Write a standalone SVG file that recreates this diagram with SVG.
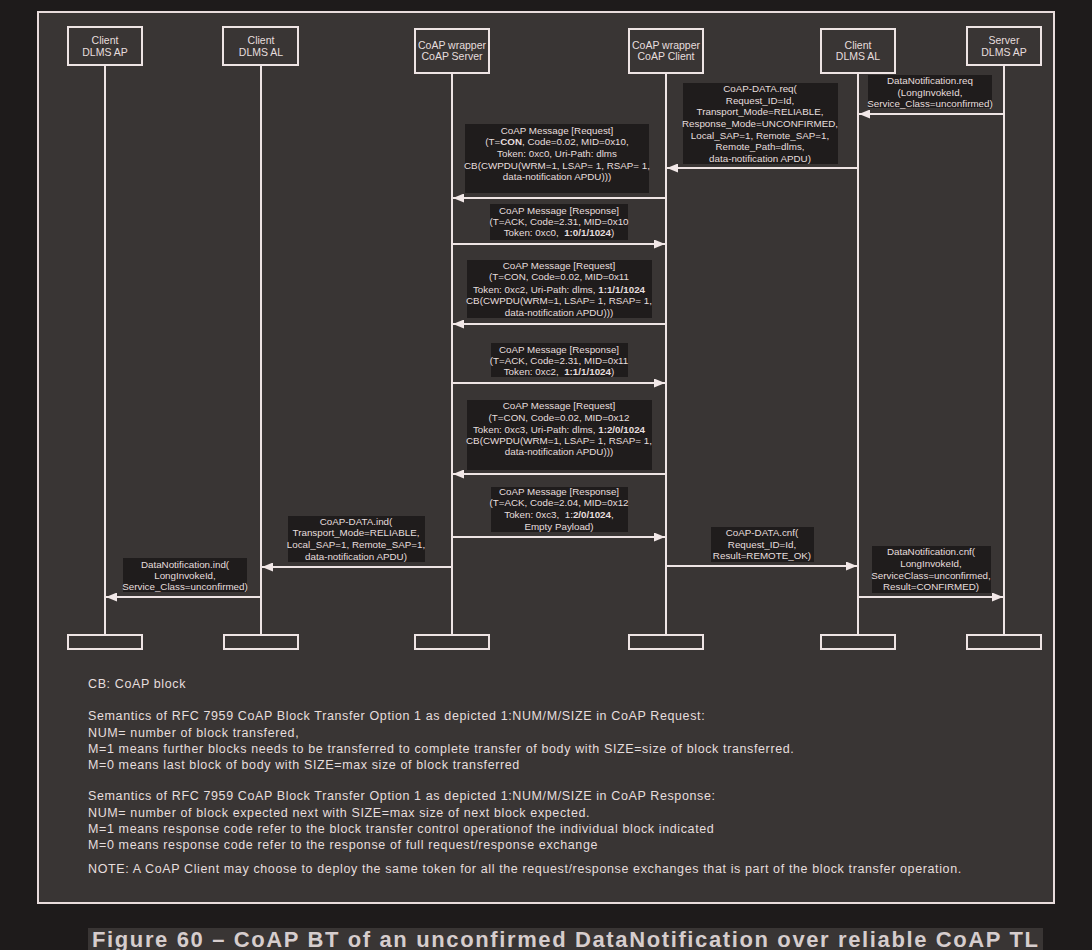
<svg xmlns="http://www.w3.org/2000/svg" width="1092" height="950" viewBox="0 0 1092 950">
<style>
.bg{fill:#1e1b1b}
.panel{fill:#393534;stroke:#e8dcdc;stroke-width:2}
.box{fill:#393534;stroke:#eee4e4;stroke-width:2}
.life{stroke:#eee4e4;stroke-width:2;fill:none}
.msg{stroke:#eee4e4;stroke-width:2;fill:none;marker-end:url(#ah)}
.lbl{fill:#1f1c1c}
text{font-family:"Liberation Sans",Arial,sans-serif;fill:#e6dede}
.t{font-size:9.8px;text-anchor:middle}
.h{font-size:10.5px;text-anchor:middle}
.n{font-size:12.5px;letter-spacing:0.62px}
.b{font-weight:bold}
.cap{font-size:22px;font-weight:bold;fill:#d6cdcd}
</style>
<defs>
<marker id="ah" markerUnits="userSpaceOnUse" markerWidth="11" markerHeight="9" refX="11" refY="4.5" orient="auto">
<path d="M0,0 L11,4.5 L0,9 z" fill="#f2e8e8"/>
</marker>
</defs>
<rect class="bg" x="0" y="0" width="1092" height="950"/>
<rect class="panel" x="38" y="12" width="1016" height="891"/>

<g id="lifelines">
<line class="life" x1="105" y1="65" x2="105" y2="635"/>
<line class="life" x1="261" y1="65" x2="261" y2="635"/>
<line class="life" x1="452" y1="73" x2="452" y2="635"/>
<line class="life" x1="666" y1="73" x2="666" y2="635"/>
<line class="life" x1="858" y1="73" x2="858" y2="635"/>
<line class="life" x1="1004" y1="65" x2="1004" y2="635"/>
</g>

<g id="node-client-ap">
<rect class="box" x="68" y="27" width="74" height="38"/>
<text class="h" x="105" y="44">Client</text>
<text class="h" x="105" y="56">DLMS AP</text>
<rect class="box" x="68" y="635" width="74" height="14"/>
</g>
<g id="node-client-al">
<rect class="box" x="223" y="27" width="75" height="38"/>
<text class="h" x="261" y="44">Client</text>
<text class="h" x="261" y="56">DLMS AL</text>
<rect class="box" x="224" y="635" width="74" height="14"/>
</g>
<g id="node-coap-server">
<rect class="box" x="415" y="29" width="74" height="44"/>
<text class="h" x="452" y="49">CoAP wrapper</text>
<text class="h" x="452" y="60">CoAP Server</text>
<rect class="box" x="415" y="635" width="74" height="14"/>
</g>
<g id="node-coap-client">
<rect class="box" x="629" y="29" width="74" height="44"/>
<text class="h" x="666" y="49">CoAP wrapper</text>
<text class="h" x="666" y="60">CoAP Client</text>
<rect class="box" x="629" y="635" width="74" height="14"/>
</g>
<g id="node-client-dlms-al">
<rect class="box" x="821" y="29" width="74" height="44"/>
<text class="h" x="858" y="49">Client</text>
<text class="h" x="858" y="60">DLMS AL</text>
<rect class="box" x="821" y="635" width="74" height="14"/>
</g>
<g id="node-server-ap">
<rect class="box" x="967" y="27" width="74" height="38"/>
<text class="h" x="1004" y="44">Server</text>
<text class="h" x="1004" y="56">DLMS AP</text>
<rect class="box" x="967" y="635" width="74" height="14"/>
</g>

<g id="connectors">
<line class="msg" x1="1004" y1="114" x2="859" y2="114"/>
<line class="msg" x1="858" y1="168" x2="667" y2="168"/>
<line class="msg" x1="666" y1="198" x2="453" y2="198"/>
<line class="msg" x1="452" y1="244" x2="665" y2="244"/>
<line class="msg" x1="666" y1="324" x2="453" y2="324"/>
<line class="msg" x1="452" y1="383" x2="665" y2="383"/>
<line class="msg" x1="666" y1="474" x2="453" y2="474"/>
<line class="msg" x1="452" y1="537" x2="665" y2="537"/>
<line class="msg" x1="452" y1="567" x2="262" y2="567"/>
<line class="msg" x1="261" y1="597" x2="106" y2="597"/>
<line class="msg" x1="666" y1="566" x2="857" y2="566"/>
<line class="msg" x1="858" y1="597" x2="1003" y2="597"/>
</g>

<g id="labels">
<rect class="lbl" x="868" y="75" width="124" height="33"/>
<text class="t" x="930" y="84">DataNotification.req</text>
<text class="t" x="930" y="96">(LongInvokeId,</text>
<text class="t" x="930" y="107">Service_Class=unconfirmed)</text>

<rect class="lbl" x="683" y="83" width="155" height="81"/>
<text class="t" x="760" y="92">CoAP-DATA.req(</text>
<text class="t" x="760" y="103.7">Request_ID=Id,</text>
<text class="t" x="760" y="115.4">Transport_Mode=RELIABLE,</text>
<text class="t" x="760" y="127">Response_Mode=UNCONFIRMED,</text>
<text class="t" x="760" y="138.7">Local_SAP=1, Remote_SAP=1,</text>
<text class="t" x="760" y="150.4">Remote_Path=dlms,</text>
<text class="t" x="760" y="162">data-notification APDU)</text>

<rect class="lbl" x="465" y="124" width="184" height="69"/>
<text class="t" x="557" y="133.7">CoAP Message [Request]</text>
<text class="t" x="557" y="145.4">(T=<tspan class="b">CON</tspan>, Code=0.02, MID=0x10,</text>
<text class="t" x="557" y="157">Token: 0xc0, Uri-Path: dlms</text>
<text class="t" x="557" y="168.7">CB(CWPDU(WRM=1, LSAP= 1, RSAP= 1,</text>
<text class="t" x="557" y="180.4">data-notification APDU)))</text>

<rect class="lbl" x="490" y="204" width="138" height="36"/>
<text class="t" x="559" y="213.7">CoAP Message [Response]</text>
<text class="t" x="559" y="224.7">(T=ACK, Code=2.31, MID=0x10</text>
<text class="t" x="559" y="236.4">Token: 0xc0,&#160; <tspan class="b">1:0/1/1024</tspan>)</text>

<rect class="lbl" x="467" y="260" width="185" height="58"/>
<text class="t" x="559" y="268.7">CoAP Message [Request]</text>
<text class="t" x="559" y="280.4">(T=CON, Code=0.02, MID=0x11</text>
<text class="t" x="559" y="292.7">Token: 0xc2, Uri-Path: dlms, <tspan class="b">1:1/1/1024</tspan></text>
<text class="t" x="559" y="304.4">CB(CWPDU(WRM=1, LSAP= 1, RSAP= 1,</text>
<text class="t" x="559" y="316">data-notification APDU)))</text>

<rect class="lbl" x="491" y="343" width="137" height="34"/>
<text class="t" x="559" y="352.7">CoAP Message [Response]</text>
<text class="t" x="559" y="363.7">(T=ACK, Code=2.31, MID=0x11</text>
<text class="t" x="559" y="375.4">Token: 0xc2,&#160; <tspan class="b">1:1/1/1024</tspan>)</text>

<rect class="lbl" x="467" y="400" width="185" height="70"/>
<text class="t" x="559" y="409.4">CoAP Message [Request]</text>
<text class="t" x="559" y="421">(T=CON, Code=0.02, MID=0x12</text>
<text class="t" x="559" y="432.7">Token: 0xc3, Uri-Path: dlms, <tspan class="b">1:2/0/1024</tspan></text>
<text class="t" x="559" y="444.4">CB(CWPDU(WRM=1, LSAP= 1, RSAP= 1,</text>
<text class="t" x="559" y="455.4">data-notification APDU)))</text>

<rect class="lbl" x="491" y="487" width="137" height="45"/>
<text class="t" x="559" y="495.4">CoAP Message [Response]</text>
<text class="t" x="559" y="506.4">(T=ACK, Code=2.04, MID=0x12</text>
<text class="t" x="559" y="518">Token: 0xc3,&#160; 1:<tspan class="b">2/0/1024</tspan>,</text>
<text class="t" x="559" y="529.7">Empty Payload)</text>

<rect class="lbl" x="288" y="516" width="137" height="46"/>
<text class="t" x="356" y="524.7">CoAP-DATA.ind(</text>
<text class="t" x="356" y="536.4">Transport_Mode=RELIABLE,</text>
<text class="t" x="356" y="548">Local_SAP=1, Remote_SAP=1,</text>
<text class="t" x="356" y="559.7">data-notification APDU)</text>

<rect class="lbl" x="123" y="558" width="124" height="34"/>
<text class="t" x="185" y="567.7">DataNotification.ind(</text>
<text class="t" x="185" y="579.4">LongInvokeId,</text>
<text class="t" x="185" y="590.4">Service_Class=unconfirmed)</text>

<rect class="lbl" x="711" y="527" width="103" height="35"/>
<text class="t" x="762" y="536">CoAP-DATA.cnf(</text>
<text class="t" x="762" y="547.7">Request_ID=Id,</text>
<text class="t" x="762" y="559.4">Result=REMOTE_OK)</text>

<rect class="lbl" x="872" y="546" width="119" height="47"/>
<text class="t" x="931" y="555.4">DataNotification.cnf(</text>
<text class="t" x="931" y="567">LongInvokeId,</text>
<text class="t" x="931" y="578.7">ServiceClass=unconfirmed,</text>
<text class="t" x="931" y="589.7">Result=CONFIRMED)</text>
</g>

<g id="notes">
<text class="n" x="88" y="688">CB: CoAP block</text>
<text class="n" x="88" y="720">Semantics of RFC 7959 CoAP Block Transfer Option 1 as depicted 1:NUM/M/SIZE in CoAP Request:</text>
<text class="n" x="88" y="737">NUM= number of block transfered,</text>
<text class="n" x="88" y="753">M=1 means further blocks needs to be transferred to complete transfer of body with SIZE=size of block transferred.</text>
<text class="n" x="88" y="769">M=0 means last block of body with SIZE=max size of block transferred</text>
<text class="n" x="88" y="800">Semantics of RFC 7959 CoAP Block Transfer Option 1 as depicted 1:NUM/M/SIZE in CoAP Response:</text>
<text class="n" x="88" y="817">NUM= number of block expected next with SIZE=max size of next block expected.</text>
<text class="n" x="88" y="833">M=1 means response code refer to the block transfer control operationof the individual block indicated</text>
<text class="n" x="88" y="849">M=0 means response code refer to the response of full request/response exchange</text>
<text class="n" x="88" y="873">NOTE: A CoAP Client may choose to deploy the same token for all the request/response exchanges that is part of the block transfer operation.</text>
</g>

<g id="caption">
<rect x="88" y="928" width="955" height="22" fill="#393534"/>
<text class="cap" x="92" y="947" textLength="946" lengthAdjust="spacing">Figure 60 – CoAP BT of an unconfirmed DataNotification over reliable CoAP TL</text>
</g>
</svg>
